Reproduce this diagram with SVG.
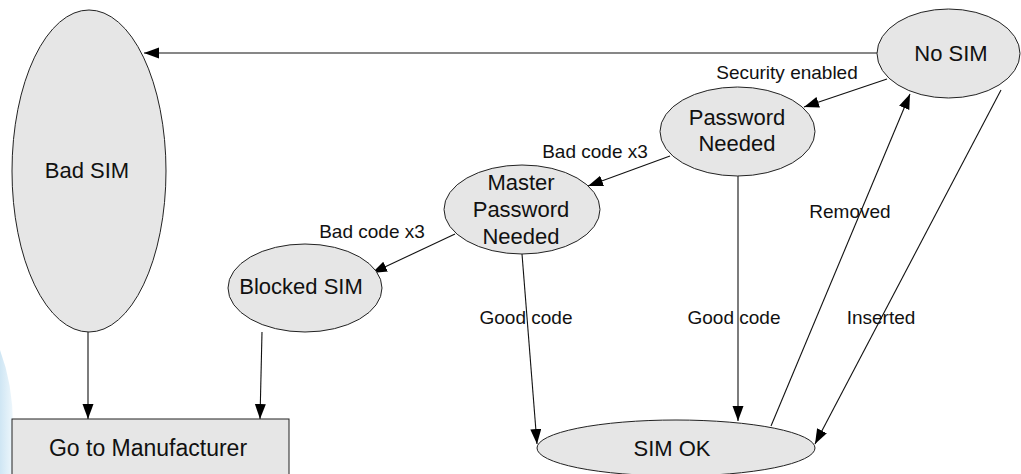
<svg xmlns="http://www.w3.org/2000/svg" width="1021" height="474" viewBox="0 0 1021 474">
<style>
.node{fill:#e6e6e6;stroke:#222;stroke-width:1}
.nt{font-family:"Liberation Sans",Arial,sans-serif;font-size:22px;fill:#111;text-anchor:middle}
.lbl{font-family:"Liberation Sans",Arial,sans-serif;font-size:19px;fill:#111;text-anchor:middle}
.edge{fill:none;stroke:#111;stroke-width:1.1;marker-end:url(#arr)}
</style>
<defs>
<marker id="arr" markerUnits="userSpaceOnUse" markerWidth="16" markerHeight="12" refX="15" refY="5.5" orient="auto">
<path d="M0,0 L15,5.5 L0,11 Z" fill="#000"/>
</marker>
<linearGradient id="glow" x1="0" y1="0" x2="1" y2="0">
<stop offset="0" stop-color="#cfe6f4"/>
<stop offset="1" stop-color="#eef7fc"/>
</linearGradient>
</defs>
<rect width="1021" height="474" fill="#fff"/>
<path d="M0,350 Q13,385 13,425 L13,474 L0,474 Z" fill="url(#glow)"/>
<g id="connectors">
<line class="edge" x1="877" y1="53" x2="144" y2="53"/>
<line class="edge" x1="887" y1="79" x2="804" y2="107"/>
<line class="edge" x1="670" y1="156" x2="588" y2="186"/>
<line class="edge" x1="455" y1="234" x2="372" y2="273"/>
<line class="edge" x1="522" y1="254" x2="537" y2="444"/>
<line class="edge" x1="738" y1="176" x2="738" y2="421"/>
<line class="edge" x1="771" y1="426" x2="910" y2="94"/>
<line class="edge" x1="1001" y1="90" x2="815" y2="444"/>
<line class="edge" x1="88" y1="332" x2="88" y2="419"/>
<line class="edge" x1="262" y1="332" x2="260" y2="419"/>
<text class="lbl" x="787" y="79">Security enabled</text>
<text class="lbl" x="595" y="158">Bad code x3</text>
<text class="lbl" x="372" y="238">Bad code x3</text>
<text class="lbl" x="526" y="324">Good code</text>
<text class="lbl" x="734" y="324">Good code</text>
<text class="lbl" x="850" y="218">Removed</text>
<text class="lbl" x="881" y="324">Inserted</text>
</g>
<g id="bad-sim">
<ellipse class="node" cx="89" cy="171" rx="77" ry="161"/>
<text class="nt" x="87" y="178">Bad SIM</text>
</g>
<g id="no-sim">
<ellipse class="node" cx="948.5" cy="53.5" rx="71.5" ry="44.5"/>
<text class="nt" x="951" y="61">No SIM</text>
</g>
<g id="password-needed">
<ellipse class="node" cx="737.5" cy="131.5" rx="77.5" ry="44.5"/>
<text class="nt" x="737" y="125">Password</text>
<text class="nt" x="737" y="151">Needed</text>
</g>
<g id="master-password-needed">
<ellipse class="node" cx="522" cy="209.5" rx="78" ry="44.5"/>
<text class="nt" x="521" y="190">Master</text>
<text class="nt" x="521" y="217">Password</text>
<text class="nt" x="521" y="244">Needed</text>
</g>
<g id="blocked-sim">
<ellipse class="node" cx="305" cy="288" rx="77" ry="44"/>
<text class="nt" x="301" y="294">Blocked SIM</text>
</g>
<g id="sim-ok">
<ellipse class="node" cx="676" cy="448" rx="139" ry="28"/>
<text class="nt" x="672" y="456">SIM OK</text>
</g>
<g id="go-to-manufacturer">
<rect class="node" x="12" y="419" width="277" height="60"/>
<text class="nt" x="148" y="456" style="font-size:23px">Go to Manufacturer</text>
</g>
</svg>
